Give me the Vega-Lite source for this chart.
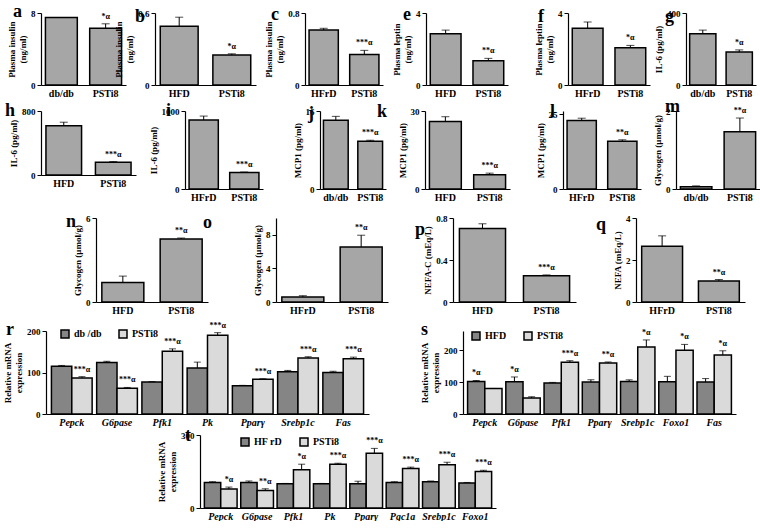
{
 "$schema": "https://vega.github.io/schema/vega-lite/v6.json",
 "padding": {"left": 0, "top": 3, "right": 0, "bottom": 0},
 "spacing": 0,
 "resolve": {"scale": {"fill": "independent", "xOffset": "independent"}, "legend": {"fill": "independent"}},
 "vconcat": [
  {"hconcat": [
   {"width":38,"height":1,"title":{"text":"a","dx":10,"dy":14.6},"data":{"values":[{}]},"mark":{"type":"point","opacity":0},"encoding":{}},
   {"width":85,"height":72,
    "data":{"values":[{"g":"db/db","v":7.5,"hi":7.5,"s":""},{"g":"PSTi8","v":6.3,"hi":6.8,"s":"*α"}]},
    "encoding":{"x":{"field":"g","type":"nominal","sort":null,"scale":{"paddingInner":0.28,"paddingOuter":0.1},"axis":{"title":null}}},
    "layer":[
     {"mark":"bar","encoding":{"y":{"field":"v","type":"quantitative","scale":{"domain":[0,8]},"axis":{"values":[0,4,8],"labelOverlap":false,"labelSeparation":-50,"title":["Plasma insulin","(ng/ml)"]}}}},
     {"mark":"rule","encoding":{"y":{"field":"v","type":"quantitative"},"y2":{"field":"hi"}}},
     {"mark":{"type":"tick","size":8},"encoding":{"y":{"field":"hi","type":"quantitative"}}},
     {"mark":{"type":"text","baseline":"bottom","dy":-3},"encoding":{"y":{"field":"hi","type":"quantitative"},"text":{"field":"s"}}}
    ]},
   {"width":29,"height":1,"title":{"text":"b","dx":9,"dy":19.6},"data":{"values":[{}]},"mark":{"type":"point","opacity":0},"encoding":{}},
   {"width":101,"height":72,
    "data":{"values":[{"g":"HFD","v":0.49,"hi":0.565,"s":""},{"g":"PSTi8","v":0.25,"hi":0.26,"s":"*α"}]},
    "encoding":{"x":{"field":"g","type":"nominal","sort":null,"scale":{"paddingInner":0.28,"paddingOuter":0.1},"axis":{"title":null}}},
    "layer":[
     {"mark":"bar","encoding":{"y":{"field":"v","type":"quantitative","scale":{"domain":[0,0.6]},"axis":{"values":[0,0.2,0.4,0.6],"format":"~g","labelOverlap":false,"labelSeparation":-50,"title":["Plasma insulin","(ng/ml)"]}}}},
     {"mark":"rule","encoding":{"y":{"field":"v","type":"quantitative"},"y2":{"field":"hi"}}},
     {"mark":{"type":"tick","size":8},"encoding":{"y":{"field":"hi","type":"quantitative"}}},
     {"mark":{"type":"text","baseline":"bottom","dy":-3},"encoding":{"y":{"field":"hi","type":"quantitative"},"text":{"field":"s"}}}
    ]},
   {"width":49,"height":1,"title":{"text":"c","dx":15,"dy":17.6},"data":{"values":[{}]},"mark":{"type":"point","opacity":0},"encoding":{}},
   {"width":78,"height":72,
    "data":{"values":[{"g":"HFrD","v":0.61,"hi":0.63,"s":""},{"g":"PSTi8","v":0.34,"hi":0.385,"s":"***α"}]},
    "encoding":{"x":{"field":"g","type":"nominal","sort":null,"scale":{"paddingInner":0.28,"paddingOuter":0.1},"axis":{"title":null}}},
    "layer":[
     {"mark":"bar","encoding":{"y":{"field":"v","type":"quantitative","scale":{"domain":[0,0.8]},"axis":{"values":[0,0.2,0.4,0.6,0.8],"format":"~g","labelOverlap":false,"labelSeparation":-50,"title":["Plasma insulin","(ng/ml)"]}}}},
     {"mark":"rule","encoding":{"y":{"field":"v","type":"quantitative"},"y2":{"field":"hi"}}},
     {"mark":{"type":"tick","size":8},"encoding":{"y":{"field":"hi","type":"quantitative"}}},
     {"mark":{"type":"text","baseline":"bottom","dy":-3},"encoding":{"y":{"field":"hi","type":"quantitative"},"text":{"field":"s"}}}
    ]},
   {"width":43,"height":1,"title":{"text":"e","dx":20,"dy":17.6},"data":{"values":[{}]},"mark":{"type":"point","opacity":0},"encoding":{}},
   {"width":82,"height":72,
    "data":{"values":[{"g":"HFD","v":2.85,"hi":3.05,"s":""},{"g":"PSTi8","v":1.35,"hi":1.48,"s":"**α"}]},
    "encoding":{"x":{"field":"g","type":"nominal","sort":null,"scale":{"paddingInner":0.28,"paddingOuter":0.1},"axis":{"title":null}}},
    "layer":[
     {"mark":"bar","encoding":{"y":{"field":"v","type":"quantitative","scale":{"domain":[0,4]},"axis":{"values":[0,2,4],"labelOverlap":false,"labelSeparation":-50,"title":["Plasma leptin","(ng/ml)"]}}}},
     {"mark":"rule","encoding":{"y":{"field":"v","type":"quantitative"},"y2":{"field":"hi"}}},
     {"mark":{"type":"tick","size":8},"encoding":{"y":{"field":"hi","type":"quantitative"}}},
     {"mark":{"type":"text","baseline":"bottom","dy":-3},"encoding":{"y":{"field":"hi","type":"quantitative"},"text":{"field":"s"}}}
    ]},
   {"width":60,"height":1,"title":{"text":"f","dx":30,"dy":19.6},"data":{"values":[{}]},"mark":{"type":"point","opacity":0},"encoding":{}},
   {"width":82,"height":72,
    "data":{"values":[{"g":"HFrD","v":3.15,"hi":3.5,"s":""},{"g":"PSTi8","v":2.07,"hi":2.2,"s":"*α"}]},
    "encoding":{"x":{"field":"g","type":"nominal","sort":null,"scale":{"paddingInner":0.28,"paddingOuter":0.1},"axis":{"title":null}}},
    "layer":[
     {"mark":"bar","encoding":{"y":{"field":"v","type":"quantitative","scale":{"domain":[0,4]},"axis":{"values":[0,1,2,3,4],"labelOverlap":false,"labelSeparation":-50,"title":["Plasma leptin","(ng/ml)"]}}}},
     {"mark":"rule","encoding":{"y":{"field":"v","type":"quantitative"},"y2":{"field":"hi"}}},
     {"mark":{"type":"tick","size":8},"encoding":{"y":{"field":"hi","type":"quantitative"}}},
     {"mark":{"type":"text","baseline":"bottom","dy":-3},"encoding":{"y":{"field":"hi","type":"quantitative"},"text":{"field":"s"}}}
    ]},
   {"width":36,"height":1,"title":{"text":"g","dx":15,"dy":19.6},"data":{"values":[{}]},"mark":{"type":"point","opacity":0},"encoding":{}},
   {"width":70,"height":72,
    "data":{"values":[{"g":"db/db","v":285,"hi":305,"s":""},{"g":"PSTi8","v":183,"hi":195,"s":"*α"}]},
    "encoding":{"x":{"field":"g","type":"nominal","sort":null,"scale":{"paddingInner":0.28,"paddingOuter":0.1},"axis":{"title":null}}},
    "layer":[
     {"mark":"bar","encoding":{"y":{"field":"v","type":"quantitative","scale":{"domain":[0,400]},"axis":{"values":[0,200,400],"labelOverlap":false,"labelSeparation":-50,"title":"IL-6 (pg/ml)"}}}},
     {"mark":"rule","encoding":{"y":{"field":"v","type":"quantitative"},"y2":{"field":"hi"}}},
     {"mark":{"type":"tick","size":8},"encoding":{"y":{"field":"hi","type":"quantitative"}}},
     {"mark":{"type":"text","baseline":"bottom","dy":-3},"encoding":{"y":{"field":"hi","type":"quantitative"},"text":{"field":"s"}}}
    ]}
  ], "spacing": 0, "bounds": "flush"},

  {"hconcat": [
   {"width":38,"height":1,"title":{"text":"h","dx":2,"dy":15.6},"data":{"values":[{}]},"mark":{"type":"point","opacity":0},"encoding":{}},
   {"width":95,"height":64,
    "data":{"values":[{"g":"HFD","v":615,"hi":660,"s":""},{"g":"PSTi8","v":158,"hi":168,"s":"***α"}]},
    "encoding":{"x":{"field":"g","type":"nominal","sort":null,"scale":{"paddingInner":0.28,"paddingOuter":0.1},"axis":{"title":null}}},
    "layer":[
     {"mark":"bar","encoding":{"y":{"field":"v","type":"quantitative","scale":{"domain":[0,800]},"axis":{"values":[0,400,800],"labelOverlap":false,"labelSeparation":-50,"title":"IL-6 (pg/ml)"}}}},
     {"mark":"rule","encoding":{"y":{"field":"v","type":"quantitative"},"y2":{"field":"hi"}}},
     {"mark":{"type":"tick","size":8},"encoding":{"y":{"field":"hi","type":"quantitative"}}},
     {"mark":{"type":"text","baseline":"bottom","dy":-3},"encoding":{"y":{"field":"hi","type":"quantitative"},"text":{"field":"s"}}}
    ]},
   {"width":49,"height":1,"title":{"text":"i","dx":30,"dy":15.6},"data":{"values":[{}]},"mark":{"type":"point","opacity":0},"encoding":{}},
   {"width":78,"height":78,
    "data":{"values":[{"g":"HFrD","v":885,"hi":935,"s":""},{"g":"PSTi8","v":210,"hi":218,"s":"***α"}]},
    "encoding":{"x":{"field":"g","type":"nominal","sort":null,"scale":{"paddingInner":0.28,"paddingOuter":0.1},"axis":{"title":null}}},
    "layer":[
     {"mark":"bar","encoding":{"y":{"field":"v","type":"quantitative","scale":{"domain":[0,1000]},"axis":{"values":[0,200,400,600,800,1000],"format":"d","labelOverlap":false,"labelSeparation":-50,"title":"IL-6 (pg/ml)"}}}},
     {"mark":"rule","encoding":{"y":{"field":"v","type":"quantitative"},"y2":{"field":"hi"}}},
     {"mark":{"type":"tick","size":8},"encoding":{"y":{"field":"hi","type":"quantitative"}}},
     {"mark":{"type":"text","baseline":"bottom","dy":-3},"encoding":{"y":{"field":"hi","type":"quantitative"},"text":{"field":"s"}}}
    ]},
   {"width":57,"height":1,"title":{"text":"j","dx":45,"dy":18.6},"data":{"values":[{}]},"mark":{"type":"point","opacity":0},"encoding":{}},
   {"width":66,"height":78,
    "data":{"values":[{"g":"db/db","v":14.1,"hi":14.9,"s":""},{"g":"PSTi8","v":9.8,"hi":10.0,"s":"***α"}]},
    "encoding":{"x":{"field":"g","type":"nominal","sort":null,"scale":{"paddingInner":0.28,"paddingOuter":0.1},"axis":{"title":null}}},
    "layer":[
     {"mark":"bar","encoding":{"y":{"field":"v","type":"quantitative","scale":{"domain":[0,16]},"axis":{"values":[0,8,16],"labelOverlap":false,"labelSeparation":-50,"title":"MCP1 (pg/ml)"}}}},
     {"mark":"rule","encoding":{"y":{"field":"v","type":"quantitative"},"y2":{"field":"hi"}}},
     {"mark":{"type":"tick","size":8},"encoding":{"y":{"field":"hi","type":"quantitative"}}},
     {"mark":{"type":"text","baseline":"bottom","dy":-3},"encoding":{"y":{"field":"hi","type":"quantitative"},"text":{"field":"s"}}}
    ]},
   {"width":39,"height":1,"title":{"text":"k","dx":-9,"dy":16.6},"data":{"values":[{}]},"mark":{"type":"point","opacity":0},"encoding":{}},
   {"width":85,"height":78,
    "data":{"values":[{"g":"HFD","v":26,"hi":27.8,"s":""},{"g":"PSTi8","v":5.5,"hi":6.1,"s":"***α"}]},
    "encoding":{"x":{"field":"g","type":"nominal","sort":null,"scale":{"paddingInner":0.28,"paddingOuter":0.1},"axis":{"title":null}}},
    "layer":[
     {"mark":"bar","encoding":{"y":{"field":"v","type":"quantitative","scale":{"domain":[0,30]},"axis":{"values":[0,10,20,30],"labelOverlap":false,"labelSeparation":-50,"title":"MCP1 (pg/ml)"}}}},
     {"mark":"rule","encoding":{"y":{"field":"v","type":"quantitative"},"y2":{"field":"hi"}}},
     {"mark":{"type":"tick","size":8},"encoding":{"y":{"field":"hi","type":"quantitative"}}},
     {"mark":{"type":"text","baseline":"bottom","dy":-3},"encoding":{"y":{"field":"hi","type":"quantitative"},"text":{"field":"s"}}}
    ]},
   {"width":53,"height":1,"title":{"text":"l","dx":40,"dy":16.6},"data":{"values":[{}]},"mark":{"type":"point","opacity":0},"encoding":{}},
   {"width":78,"height":78,
    "data":{"values":[{"g":"HFrD","v":22.8,"hi":23.6,"s":""},{"g":"PSTi8","v":15.9,"hi":16.4,"s":"**α"}]},
    "encoding":{"x":{"field":"g","type":"nominal","sort":null,"scale":{"paddingInner":0.28,"paddingOuter":0.1},"axis":{"title":null}}},
    "layer":[
     {"mark":"bar","encoding":{"y":{"field":"v","type":"quantitative","scale":{"domain":[0,25]},"axis":{"values":[0,5,10,15,20,25],"labelOverlap":false,"labelSeparation":-50,"title":"MCP1 (pg/ml)"}}}},
     {"mark":"rule","encoding":{"y":{"field":"v","type":"quantitative"},"y2":{"field":"hi"}}},
     {"mark":{"type":"tick","size":8},"encoding":{"y":{"field":"hi","type":"quantitative"}}},
     {"mark":{"type":"text","baseline":"bottom","dy":-3},"encoding":{"y":{"field":"hi","type":"quantitative"},"text":{"field":"s"}}}
    ]},
   {"width":35,"height":1,"title":{"text":"m","dx":24,"dy":11.6},"data":{"values":[{}]},"mark":{"type":"point","opacity":0},"encoding":{}},
   {"width":84,"height":78,
    "data":{"values":[{"g":"db/db","v":0.06,"hi":0.08,"s":""},{"g":"PSTi8","v":1.47,"hi":1.82,"s":"**α"}]},
    "encoding":{"x":{"field":"g","type":"nominal","sort":null,"scale":{"paddingInner":0.28,"paddingOuter":0.1},"axis":{"title":null}}},
    "layer":[
     {"mark":"bar","encoding":{"y":{"field":"v","type":"quantitative","scale":{"domain":[0,2]},"axis":{"values":[0,0.5,1,1.5,2],"format":"~g","labelOverlap":false,"labelSeparation":-50,"title":"Glycogen (μmol/g)"}}}},
     {"mark":"rule","encoding":{"y":{"field":"v","type":"quantitative"},"y2":{"field":"hi"}}},
     {"mark":{"type":"tick","size":8},"encoding":{"y":{"field":"hi","type":"quantitative"}}},
     {"mark":{"type":"text","baseline":"bottom","dy":-3},"encoding":{"y":{"field":"hi","type":"quantitative"},"text":{"field":"s"}}}
    ]}
  ], "spacing": 0, "bounds": "flush"},

  {"width":1,"height":10,"data":{"values":[{}]},"mark":{"type":"point","opacity":0},"encoding":{}},

  {"hconcat": [
   {"width":93,"height":1,"title":{"text":"n","dx":63,"dy":19.6},"data":{"values":[{}]},"mark":{"type":"point","opacity":0},"encoding":{}},
   {"width":112,"height":84,
    "data":{"values":[{"g":"HFD","v":1.4,"hi":1.85,"s":""},{"g":"PSTi8","v":4.5,"hi":4.57,"s":"**α"}]},
    "encoding":{"x":{"field":"g","type":"nominal","sort":null,"scale":{"paddingInner":0.28,"paddingOuter":0.1},"axis":{"title":null}}},
    "layer":[
     {"mark":"bar","encoding":{"y":{"field":"v","type":"quantitative","scale":{"domain":[0,6]},"axis":{"values":[0,2,4,6],"labelOverlap":false,"labelSeparation":-50,"title":"Glycogen (μmol/g)"}}}},
     {"mark":"rule","encoding":{"y":{"field":"v","type":"quantitative"},"y2":{"field":"hi"}}},
     {"mark":{"type":"tick","size":8},"encoding":{"y":{"field":"hi","type":"quantitative"}}},
     {"mark":{"type":"text","baseline":"bottom","dy":-3},"encoding":{"y":{"field":"hi","type":"quantitative"},"text":{"field":"s"}}}
    ]},
   {"width":68,"height":1,"title":{"text":"o","dx":-5,"dy":20.6},"data":{"values":[{}]},"mark":{"type":"point","opacity":0},"encoding":{}},
   {"width":112,"height":84,
    "data":{"values":[{"g":"HFrD","v":0.6,"hi":0.75,"s":""},{"g":"PSTi8","v":6.55,"hi":7.95,"s":"**α"}]},
    "encoding":{"x":{"field":"g","type":"nominal","sort":null,"scale":{"paddingInner":0.28,"paddingOuter":0.1},"axis":{"title":null}}},
    "layer":[
     {"mark":"bar","encoding":{"y":{"field":"v","type":"quantitative","scale":{"domain":[0,10]},"axis":{"values":[0,2,4,6,8,10],"labelOverlap":false,"labelSeparation":-50,"title":"Glycogen (μmol/g)"}}}},
     {"mark":"rule","encoding":{"y":{"field":"v","type":"quantitative"},"y2":{"field":"hi"}}},
     {"mark":{"type":"tick","size":8},"encoding":{"y":{"field":"hi","type":"quantitative"}}},
     {"mark":{"type":"text","baseline":"bottom","dy":-3},"encoding":{"y":{"field":"hi","type":"quantitative"},"text":{"field":"s"}}}
    ]},
   {"width":65,"height":1,"title":{"text":"p","dx":27,"dy":27.6},"data":{"values":[{}]},"mark":{"type":"point","opacity":0},"encoding":{}},
   {"width":123,"height":84,
    "data":{"values":[{"g":"HFD","v":0.70,"hi":0.745,"s":""},{"g":"PSTi8","v":0.25,"hi":0.258,"s":"***α"}]},
    "encoding":{"x":{"field":"g","type":"nominal","sort":null,"scale":{"paddingInner":0.28,"paddingOuter":0.1},"axis":{"title":null}}},
    "layer":[
     {"mark":"bar","encoding":{"y":{"field":"v","type":"quantitative","scale":{"domain":[0,0.8]},"axis":{"values":[0,0.2,0.4,0.6,0.8],"format":"~g","labelOverlap":false,"labelSeparation":-50,"title":"NEFA-C (mEq/L)"}}}},
     {"mark":"rule","encoding":{"y":{"field":"v","type":"quantitative"},"y2":{"field":"hi"}}},
     {"mark":{"type":"tick","size":8},"encoding":{"y":{"field":"hi","type":"quantitative"}}},
     {"mark":{"type":"text","baseline":"bottom","dy":-3},"encoding":{"y":{"field":"hi","type":"quantitative"},"text":{"field":"s"}}}
    ]},
   {"width":60,"height":1,"title":{"text":"q","dx":20,"dy":22.6},"data":{"values":[{}]},"mark":{"type":"point","opacity":0},"encoding":{}},
   {"width":109,"height":84,
    "data":{"values":[{"g":"HFrD","v":2.65,"hi":3.15,"s":""},{"g":"PSTi8","v":1.0,"hi":1.07,"s":"**α"}]},
    "encoding":{"x":{"field":"g","type":"nominal","sort":null,"scale":{"paddingInner":0.28,"paddingOuter":0.1},"axis":{"title":null}}},
    "layer":[
     {"mark":"bar","encoding":{"y":{"field":"v","type":"quantitative","scale":{"domain":[0,4]},"axis":{"values":[0,1,2,3,4],"labelOverlap":false,"labelSeparation":-50,"title":"NEFA (mEq/L)"}}}},
     {"mark":"rule","encoding":{"y":{"field":"v","type":"quantitative"},"y2":{"field":"hi"}}},
     {"mark":{"type":"tick","size":8},"encoding":{"y":{"field":"hi","type":"quantitative"}}},
     {"mark":{"type":"text","baseline":"bottom","dy":-3},"encoding":{"y":{"field":"hi","type":"quantitative"},"text":{"field":"s"}}}
    ]}
  ], "spacing": 0, "bounds": "flush"},

  {"width":1,"height":4,"data":{"values":[{}]},"mark":{"type":"point","opacity":0},"encoding":{}},

  {"hconcat": [
   {"width":43,"height":1,"title":{"text":"r","dx":3,"dy":14.6},"data":{"values":[{}]},"mark":{"type":"point","opacity":0},"encoding":{}},
   {"width":323,"height":83,
    "data":{"values":[
     {"k":"Pepck","g":"db /db","v":115,"hi":117,"s":""},{"k":"Pepck","g":"PSTi8","v":87,"hi":90,"s":"***α"},
     {"k":"G6pase","g":"db /db","v":124,"hi":127,"s":""},{"k":"G6pase","g":"PSTi8","v":62,"hi":64,"s":"***α"},
     {"k":"Pfk1","g":"db /db","v":77,"hi":78,"s":""},{"k":"Pfk1","g":"PSTi8","v":151,"hi":157,"s":"***α"},
     {"k":"Pk","g":"db /db","v":111,"hi":125,"s":""},{"k":"Pk","g":"PSTi8","v":190,"hi":196,"s":"***α"},
     {"k":"Pparγ","g":"db /db","v":68,"hi":69,"s":""},{"k":"Pparγ","g":"PSTi8","v":84,"hi":85,"s":"***α"},
     {"k":"Srebp1c","g":"db /db","v":102,"hi":105,"s":""},{"k":"Srebp1c","g":"PSTi8","v":135,"hi":138,"s":"***α"},
     {"k":"Fas","g":"db /db","v":100,"hi":103,"s":""},{"k":"Fas","g":"PSTi8","v":133,"hi":137,"s":"***α"}
    ]},
    "layer":[
     {"mark":"bar","encoding":{"x":{"field":"k","type":"nominal","sort":null,"scale":{"paddingInner":0.1,"paddingOuter":0.12},"axis":{"title":null,"labelFontStyle":"italic"}},"xOffset":{"field":"g","type":"nominal","sort":null},
      "y":{"field":"v","type":"quantitative","scale":{"domain":[0,200]},"axis":{"values":[0,50,100,150,200],"labelOverlap":false,"labelSeparation":-50,"title":["Relative mRNA","expression"]}},
      "fill":{"field":"g","type":"nominal","sort":null,"scale":{"range":["#858585","#dadada"]},"legend":{"orient":"none","legendX":14,"legendY":-2}}}},
     {"mark":"rule","encoding":{"x":{"field":"k","type":"nominal","sort":null},"xOffset":{"field":"g","type":"nominal","sort":null},"y":{"field":"v","type":"quantitative"},"y2":{"field":"hi"}}},
     {"mark":{"type":"tick","size":7},"encoding":{"x":{"field":"k","type":"nominal","sort":null},"xOffset":{"field":"g","type":"nominal","sort":null},"y":{"field":"hi","type":"quantitative"}}},
     {"mark":{"type":"text","baseline":"bottom","dy":-3},"encoding":{"x":{"field":"k","type":"nominal","sort":null},"xOffset":{"field":"g","type":"nominal","sort":null},"y":{"field":"hi","type":"quantitative"},"text":{"field":"s"}}}
    ]},
   {"width":94,"height":1,"title":{"text":"s","dx":52,"dy":14.6},"data":{"values":[{}]},"mark":{"type":"point","opacity":0},"encoding":{}},
   {"width":273,"height":83,
    "data":{"values":[
     {"k":"Pepck","g":"HFD","v":102,"hi":105,"s":"*α"},{"k":"Pepck","g":"PSTi8","v":80,"hi":80,"s":""},
     {"k":"G6pase","g":"HFD","v":101,"hi":116,"s":"*α"},{"k":"G6pase","g":"PSTi8","v":50,"hi":54,"s":""},
     {"k":"Pfk1","g":"HFD","v":97,"hi":99,"s":""},{"k":"Pfk1","g":"PSTi8","v":162,"hi":167,"s":"***α"},
     {"k":"Pparγ","g":"HFD","v":100,"hi":107,"s":""},{"k":"Pparγ","g":"PSTi8","v":160,"hi":163,"s":"**α"},
     {"k":"Srebp1c","g":"HFD","v":102,"hi":107,"s":""},{"k":"Srebp1c","g":"PSTi8","v":210,"hi":232,"s":"*α"},
     {"k":"Foxo1","g":"HFD","v":101,"hi":118,"s":""},{"k":"Foxo1","g":"PSTi8","v":200,"hi":218,"s":"*α"},
     {"k":"Fas","g":"HFD","v":100,"hi":111,"s":""},{"k":"Fas","g":"PSTi8","v":185,"hi":198,"s":"*α"}
    ]},
    "layer":[
     {"mark":"bar","encoding":{"x":{"field":"k","type":"nominal","sort":null,"scale":{"paddingInner":0.1,"paddingOuter":0.12},"axis":{"title":null,"labelFontStyle":"italic"}},"xOffset":{"field":"g","type":"nominal","sort":null},
      "y":{"field":"v","type":"quantitative","scale":{"domain":[0,250]},"axis":{"values":[0,50,100,150,200,250],"labelOverlap":false,"labelSeparation":-50,"title":["Relative mRNA","expression"]}},
      "fill":{"field":"g","type":"nominal","sort":null,"scale":{"range":["#858585","#dadada"]},"legend":{"orient":"none","legendX":8,"legendY":0}}}},
     {"mark":"rule","encoding":{"x":{"field":"k","type":"nominal","sort":null},"xOffset":{"field":"g","type":"nominal","sort":null},"y":{"field":"v","type":"quantitative"},"y2":{"field":"hi"}}},
     {"mark":{"type":"tick","size":7},"encoding":{"x":{"field":"k","type":"nominal","sort":null},"xOffset":{"field":"g","type":"nominal","sort":null},"y":{"field":"hi","type":"quantitative"}}},
     {"mark":{"type":"text","baseline":"bottom","dy":-3},"encoding":{"x":{"field":"k","type":"nominal","sort":null},"xOffset":{"field":"g","type":"nominal","sort":null},"y":{"field":"hi","type":"quantitative"},"text":{"field":"s"}}}
    ]}
  ], "spacing": 0, "bounds": "flush", "resolve": {"scale": {"fill": "independent", "xOffset": "independent"}, "legend": {"fill": "independent"}}},

  {"hconcat": [
   {"width":197,"height":1,"title":{"text":"t","dx":182,"dy":16.6},"data":{"values":[{}]},"mark":{"type":"point","opacity":0},"encoding":{}},
   {"width":296,"height":73,
    "data":{"values":[
     {"k":"Pepck","g":"HF rD","v":105,"hi":108,"s":""},{"k":"Pepck","g":"PSTi8","v":78,"hi":86,"s":"*α"},
     {"k":"G6pase","g":"HF rD","v":105,"hi":111,"s":""},{"k":"G6pase","g":"PSTi8","v":72,"hi":79,"s":"**α"},
     {"k":"Pfk1","g":"HF rD","v":100,"hi":101,"s":""},{"k":"Pfk1","g":"PSTi8","v":157,"hi":180,"s":"*α"},
     {"k":"Pk","g":"HF rD","v":100,"hi":101,"s":""},{"k":"Pk","g":"PSTi8","v":180,"hi":184,"s":"***α"},
     {"k":"Pparγ","g":"HF rD","v":100,"hi":110,"s":""},{"k":"Pparγ","g":"PSTi8","v":225,"hi":245,"s":"***α"},
     {"k":"Pgc1a","g":"HF rD","v":105,"hi":108,"s":""},{"k":"Pgc1a","g":"PSTi8","v":162,"hi":168,"s":"***α"},
     {"k":"Srebp1c","g":"HF rD","v":108,"hi":111,"s":""},{"k":"Srebp1c","g":"PSTi8","v":178,"hi":188,"s":"***α"},
     {"k":"Foxo1","g":"HF rD","v":103,"hi":105,"s":""},{"k":"Foxo1","g":"PSTi8","v":150,"hi":155,"s":"***α"}
    ]},
    "layer":[
     {"mark":"bar","encoding":{"x":{"field":"k","type":"nominal","sort":null,"scale":{"paddingInner":0.1,"paddingOuter":0.12},"axis":{"title":null,"labelFontStyle":"italic"}},"xOffset":{"field":"g","type":"nominal","sort":null},
      "y":{"field":"v","type":"quantitative","scale":{"domain":[0,300]},"axis":{"values":[0,100,200,300],"labelOverlap":false,"labelSeparation":-50,"title":["Relative mRNA","expression"]}},
      "fill":{"field":"g","type":"nominal","sort":null,"scale":{"range":["#858585","#dadada"]},"legend":{"orient":"none","legendX":40,"legendY":2}}}},
     {"mark":"rule","encoding":{"x":{"field":"k","type":"nominal","sort":null},"xOffset":{"field":"g","type":"nominal","sort":null},"y":{"field":"v","type":"quantitative"},"y2":{"field":"hi"}}},
     {"mark":{"type":"tick","size":7},"encoding":{"x":{"field":"k","type":"nominal","sort":null},"xOffset":{"field":"g","type":"nominal","sort":null},"y":{"field":"hi","type":"quantitative"}}},
     {"mark":{"type":"text","baseline":"bottom","dy":-3},"encoding":{"x":{"field":"k","type":"nominal","sort":null},"xOffset":{"field":"g","type":"nominal","sort":null},"y":{"field":"hi","type":"quantitative"},"text":{"field":"s"}}}
    ]}
  ], "spacing": 0, "bounds": "flush", "resolve": {"scale": {"fill": "independent", "xOffset": "independent"}, "legend": {"fill": "independent"}}}
 ],
 "config": {
  "view": {"stroke": null},
  "font": "Liberation Serif",
  "axis": {"domainColor": "black", "domainWidth": 1.2, "tickColor": "black", "tickSize": 4, "grid": false, "labelOverlap": false, "labelSeparation": -50, "labelBound": false,
           "labelColor": "black", "labelFont": "Liberation Serif", "labelFontWeight": "bold", "labelFontSize": 9,
           "titleColor": "black", "titleFont": "Liberation Serif", "titleFontWeight": "bold", "titleFontSize": 9,
           "titlePadding": 3, "labelPadding": 2},
  "axisX": {"ticks": false, "labelAngle": 0, "labelFontSize": 10, "labelPadding": 3},
  "bar": {"color": "#a6a6a6", "stroke": "black", "strokeWidth": 1.5},
  "rule": {"color": "black", "strokeWidth": 1},
  "tick": {"color": "black", "thickness": 1},
  "text": {"fontSize": 8, "font": "Liberation Serif", "fontWeight": "bold", "color": "black"},
  "title": {"anchor": "start", "frame": "group", "offset": 0, "baseline": "alphabetic", "fontSize": 18, "font": "Liberation Serif", "fontWeight": "bold", "color": "black"},
  "legend": {"title": null, "direction": "horizontal", "symbolType": "square", "symbolSize": 64, "symbolStrokeColor": "black", "symbolStrokeWidth": 1, "symbolOpacity": 1,
             "labelFont": "Liberation Serif", "labelFontWeight": "bold", "labelFontSize": 10, "labelColor": "black", "columnPadding": 14, "padding": 0}
 }
}
